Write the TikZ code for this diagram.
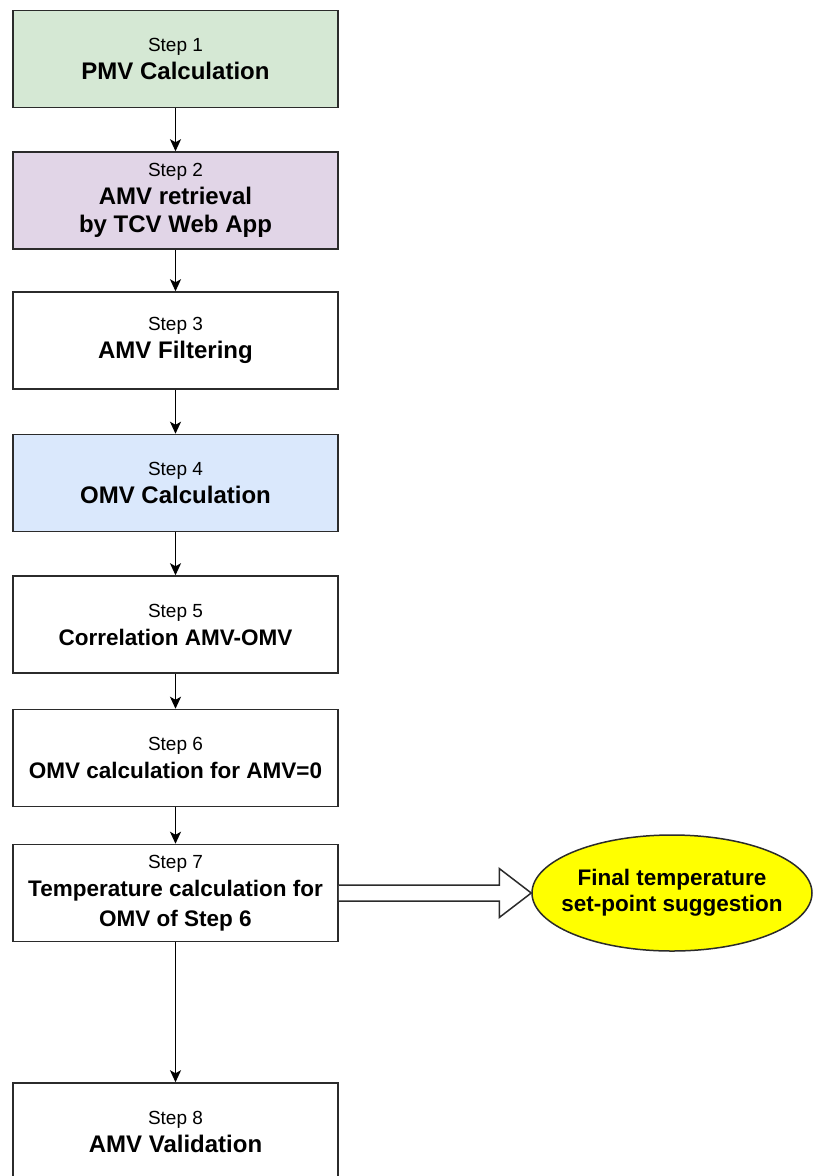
\documentclass[tikz,border=0pt]{standalone}
\usepackage{fontspec}
\setmainfont{Liberation Sans}
\usetikzlibrary{arrows.meta,shapes.geometric,calc}
\definecolor{gfill}{HTML}{D5E8D4}
\definecolor{pfill}{HTML}{E1D5E7}
\definecolor{bfill}{HTML}{DAE8FC}
\definecolor{ylw}{HTML}{FFFF00}
\definecolor{strk}{HTML}{2B2B2B}
\tikzset{
  stepbox/.style={draw=strk, line width=1.5pt, minimum width=325pt, minimum height=97pt,
    align=center, inner sep=0pt, font=\fontsize{24}{28}\selectfont},
  smallbold/.style={font=\fontsize{22.5}{28}\selectfont},
  flow/.style={draw=black, line width=1.6pt, -{Stealth[length=12pt,width=11pt,inset=3pt]}},
  hollow/.style={draw=strk, line width=1.5pt, fill=white, line join=miter},
  finalnode/.style={ellipse, draw=strk, line width=1.5pt, fill=ylw, minimum width=280pt,
    minimum height=116pt, inner sep=0pt,
    font=\fontsize{22.5}{26}\selectfont\bfseries},
}
\newcommand{\stp}[1]{{\fontsize{19}{28}\selectfont\mdseries Step #1}}
\begin{document}
\begin{tikzpicture}[x=1pt,y=-1pt]
\useasboundingbox (0,0) rectangle (814,1176);
\clip (0,0) rectangle (814,1176);
\fill[white] (0,0) rectangle (814,1176);
\node[stepbox, fill=gfill] (s1) at (175.5,59) {\stp{1}\\\textbf{PMV Calculation}};
\node[stepbox, fill=pfill] (s2) at (175.5,200.5) {\stp{2}\\\textbf{AMV retrieval}\\\textbf{by TCV Web App}};
\node[stepbox] (s3) at (175.5,340.5) {\stp{3}\\\textbf{AMV Filtering}};
\node[stepbox, fill=bfill] (s4) at (175.5,483) {\stp{4}\\\textbf{OMV Calculation}};
\node[stepbox, smallbold] (s5) at (175.5,624.5) {\stp{5}\\\textbf{Correlation AMV-OMV}};
\node[stepbox, smallbold] (s6) at (175.5,758) {\stp{6}\\\textbf{OMV calculation for AMV=0}};
\node[stepbox, smallbold] (s7) at (175.5,893) {\stp{7}\\\textbf{Temperature calculation for}\\[2pt]\textbf{OMV of Step 6}};
\node[stepbox] (s8) at (175.5,1131.5) {\stp{8}\\\textbf{AMV Validation}};
\node[finalnode] (fin) at (672,893) {\makebox[0pt][c]{\begin{tabular}{@{}c@{}}Final temperature\\set-point suggestion\end{tabular}}};
\draw[flow] (s1) -- (s2);
\draw[flow] (s2) -- (s3);
\draw[flow] (s3) -- (s4);
\draw[flow] (s4) -- (s5);
\draw[flow] (s5) -- (s6);
\draw[flow] (s6) -- (s7);
\draw[flow] (s7) -- (s8);
\draw[hollow] ($(s7.east)+(0,-8)$) -- ($(fin.west)+(-32,-8)$) -- ($(fin.west)+(-32,-24.5)$)
  -- (fin.west) -- ($(fin.west)+(-32,24.5)$) -- ($(fin.west)+(-32,8)$) -- ($(s7.east)+(0,8)$);
\end{tikzpicture}
\end{document}
